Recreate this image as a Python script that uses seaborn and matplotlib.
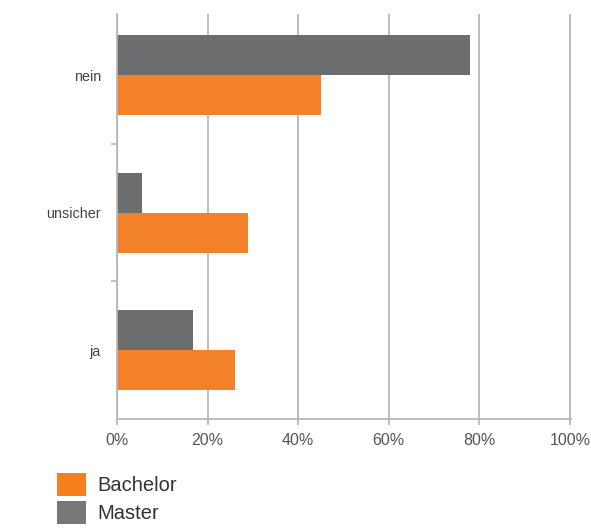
import matplotlib
matplotlib.use("Agg")
import matplotlib.pyplot as plt
import seaborn as sns
import pandas as pd
from matplotlib.patches import Patch
from matplotlib.ticker import FixedLocator

categories = ["nein", "unsicher", "ja"]
bachelor = [45, 29, 26]
master = [78, 5.6, 16.8]
series_names = ["Bachelor", "Master"]
x_ticks = [0, 20, 40, 60, 80, 100]
x_tick_labels = ["0%", "20%", "40%", "60%", "80%", "100%"]

orange = "#F28129"
gray = "#6B6D6F"
grid_c = "#B8B8B8"

df = pd.DataFrame({
    "Kategorie": categories * 2,
    "Wert": master + bachelor,
    "Gruppe": ["Master"] * 3 + ["Bachelor"] * 3,
})

sns.set_style("white")
plt.rcParams["font.family"] = ["Liberation Sans", "DejaVu Sans"]

fig = plt.figure(figsize=(5.91, 5.32), dpi=100)
ax = fig.add_axes([117 / 591, (532 - 419) / 532, (571 - 117) / 591, (419 - 14) / 532])

sns.barplot(data=df, x="Wert", y="Kategorie", hue="Gruppe", order=categories,
            hue_order=["Master", "Bachelor"], palette={"Master": gray, "Bachelor": orange},
            orient="h", width=0.58, saturation=1, ax=ax, legend=False, errorbar=None,
            linewidth=0, edgecolor="none")

ax.set_xlim(0, 100.25)
ax.set_ylim(2.5, -0.444)
ax.set_xticks(x_ticks)
ax.set_xticklabels(x_tick_labels)
ax.set_axisbelow(True)
ax.xaxis.grid(True, color=grid_c, linewidth=1.3)
ax.yaxis.grid(False)
ax.set_xlabel("")
ax.set_ylabel("")

for s in ["top", "right"]:
    ax.spines[s].set_visible(False)
for s in ["left", "bottom"]:
    ax.spines[s].set_visible(True)
    ax.spines[s].set_color(grid_c)
    ax.spines[s].set_linewidth(1.3)

ax.tick_params(axis="x", which="major", length=4, width=1.3, color=grid_c,
               labelsize=11.5, labelcolor="#555555", pad=6, bottom=True)
ax.tick_params(axis="y", which="major", length=0, labelsize=10.4, labelcolor="#444444", pad=11.5)
ax.yaxis.set_minor_locator(FixedLocator([0.5, 1.5]))
ax.tick_params(axis="y", which="minor", length=4, width=1.2, color=grid_c, left=True)

handles = [Patch(facecolor="#F7801E", edgecolor="none"), Patch(facecolor="#777777", edgecolor="none")]
fs = 14.5
fig.legend(handles, series_names, loc="upper left", bbox_to_anchor=(57 / 591, (532 - 473) / 532),
           frameon=False, fontsize=fs, handlelength=29 / (fs * 100 / 72),
           handleheight=28 / (fs * 100 / 72),
           handletextpad=11 / (fs * 100 / 72), labelspacing=5 / (fs * 100 / 72),
           borderpad=0, borderaxespad=0, labelcolor="#333333")

fig.savefig("out.png", dpi=100)
